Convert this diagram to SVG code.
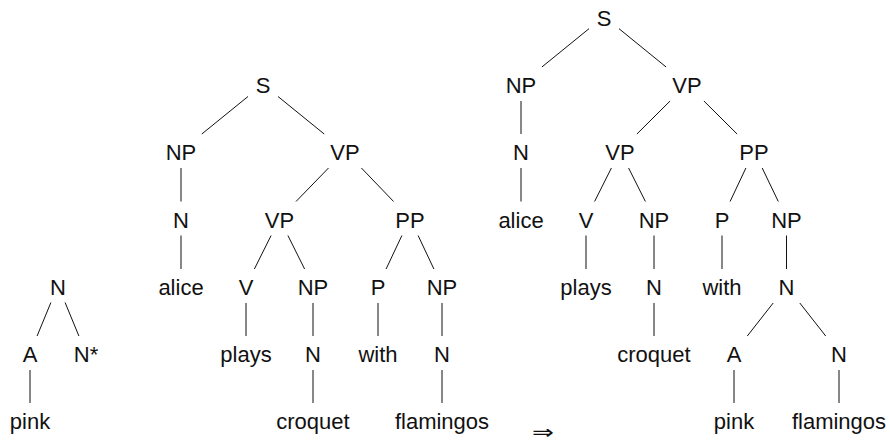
<svg xmlns="http://www.w3.org/2000/svg" width="890" height="444" viewBox="0 0 890 444">
<style>
text{font-family:"Liberation Sans",Arial,sans-serif;font-size:22px;fill:#111;text-anchor:middle}
.e line{stroke:#111;stroke-width:1}
.arr{font-family:"DejaVu Sans",sans-serif;font-size:20px}
</style>
<rect width="890" height="444" fill="#fff"/>
<!-- left tree -->
<g id="t1-N"><text x="58" y="295">N</text></g>
<g id="t1-A"><text x="30" y="362">A</text></g>
<g id="t1-Nstar"><text x="86" y="362">N*</text></g>
<g id="t1-pink"><text x="30" y="429">pink</text></g>
<!-- middle tree -->
<g id="t2-S"><text x="263" y="93">S</text></g>
<g id="t2-NP"><text x="181" y="160">NP</text></g>
<g id="t2-VP"><text x="345" y="160">VP</text></g>
<g id="t2-N"><text x="181" y="227.5">N</text></g>
<g id="t2-VP2"><text x="279.5" y="227.5">VP</text></g>
<g id="t2-PP"><text x="410" y="227.5">PP</text></g>
<g id="t2-alice"><text x="181" y="295">alice</text></g>
<g id="t2-V"><text x="246" y="295">V</text></g>
<g id="t2-NP2"><text x="313" y="295">NP</text></g>
<g id="t2-P"><text x="378" y="295">P</text></g>
<g id="t2-NP3"><text x="442" y="295">NP</text></g>
<g id="t2-plays"><text x="246" y="362">plays</text></g>
<g id="t2-N2"><text x="313" y="362">N</text></g>
<g id="t2-with"><text x="378" y="362">with</text></g>
<g id="t2-N3"><text x="442" y="362">N</text></g>
<g id="t2-croquet"><text x="313" y="429">croquet</text></g>
<g id="t2-flamingos"><text x="442" y="429">flamingos</text></g>
<!-- arrow -->
<g id="implies"><text class="arr" x="543" y="439" textLength="22" lengthAdjust="spacingAndGlyphs">⇒</text></g>
<!-- right tree -->
<g id="t3-S"><text x="604" y="25.5">S</text></g>
<g id="t3-NP"><text x="521" y="93">NP</text></g>
<g id="t3-VP"><text x="687" y="93">VP</text></g>
<g id="t3-N"><text x="521" y="160">N</text></g>
<g id="t3-VP2"><text x="620" y="160">VP</text></g>
<g id="t3-PP"><text x="754" y="160">PP</text></g>
<g id="t3-alice"><text x="521" y="227.5">alice</text></g>
<g id="t3-V"><text x="586" y="227.5">V</text></g>
<g id="t3-NP2"><text x="654" y="227.5">NP</text></g>
<g id="t3-P"><text x="722" y="227.5">P</text></g>
<g id="t3-NP3"><text x="786.5" y="227.5">NP</text></g>
<g id="t3-plays"><text x="586" y="295">plays</text></g>
<g id="t3-N2"><text x="654" y="295">N</text></g>
<g id="t3-with"><text x="722" y="295">with</text></g>
<g id="t3-N3"><text x="786.5" y="295">N</text></g>
<g id="t3-croquet"><text x="654" y="362">croquet</text></g>
<g id="t3-A"><text x="734" y="362">A</text></g>
<g id="t3-N4"><text x="839" y="362">N</text></g>
<g id="t3-pink"><text x="734" y="429">pink</text></g>
<g id="t3-flamingos"><text x="839" y="429">flamingos</text></g>
<!-- connectors -->
<g id="edges" class="e">
<line x1="50.9" y1="302.5" x2="37.1" y2="336"/>
<line x1="65.1" y1="302.5" x2="78.9" y2="336"/>
<line x1="30" y1="370" x2="30" y2="403"/>

<line x1="248" y1="96.5" x2="201.8" y2="134"/>
<line x1="278" y1="96.5" x2="324.2" y2="134"/>
<line x1="181" y1="168" x2="181" y2="201.5"/>
<line x1="328.5" y1="168" x2="296" y2="201.5"/>
<line x1="361.4" y1="168" x2="393.6" y2="201.5"/>
<line x1="181" y1="235.5" x2="181" y2="269"/>
<line x1="271.1" y1="235.5" x2="254.4" y2="269"/>
<line x1="287.9" y1="235.5" x2="304.6" y2="269"/>
<line x1="401.9" y1="235.5" x2="386.1" y2="269"/>
<line x1="418.1" y1="235.5" x2="433.9" y2="269"/>
<line x1="246" y1="303" x2="246" y2="336"/>
<line x1="313" y1="303" x2="313" y2="336"/>
<line x1="378" y1="303" x2="378" y2="336"/>
<line x1="442" y1="303" x2="442" y2="336"/>
<line x1="313" y1="370" x2="313" y2="403"/>
<line x1="442" y1="370" x2="442" y2="403"/>

<line x1="589" y1="28.7" x2="541.9" y2="67"/>
<line x1="619" y1="28.7" x2="666.1" y2="67"/>
<line x1="521" y1="101" x2="521" y2="134"/>
<line x1="670.1" y1="101" x2="636.9" y2="134"/>
<line x1="703.9" y1="101" x2="737.1" y2="134"/>
<line x1="521" y1="168" x2="521" y2="201.5"/>
<line x1="611.4" y1="168" x2="594.6" y2="201.5"/>
<line x1="628.6" y1="168" x2="645.4" y2="201.5"/>
<line x1="745.9" y1="168" x2="730.1" y2="201.5"/>
<line x1="762.2" y1="168" x2="778.3" y2="201.5"/>
<line x1="586" y1="235.5" x2="586" y2="269"/>
<line x1="654" y1="235.5" x2="654" y2="269"/>
<line x1="722" y1="235.5" x2="722" y2="269"/>
<line x1="786.5" y1="235.5" x2="786.5" y2="269"/>
<line x1="654" y1="303" x2="654" y2="336"/>
<line x1="773.2" y1="303" x2="747.3" y2="336"/>
<line x1="799.8" y1="303" x2="825.7" y2="336"/>
<line x1="734" y1="370" x2="734" y2="403"/>
<line x1="839" y1="370" x2="839" y2="403"/>
</g>
</svg>
